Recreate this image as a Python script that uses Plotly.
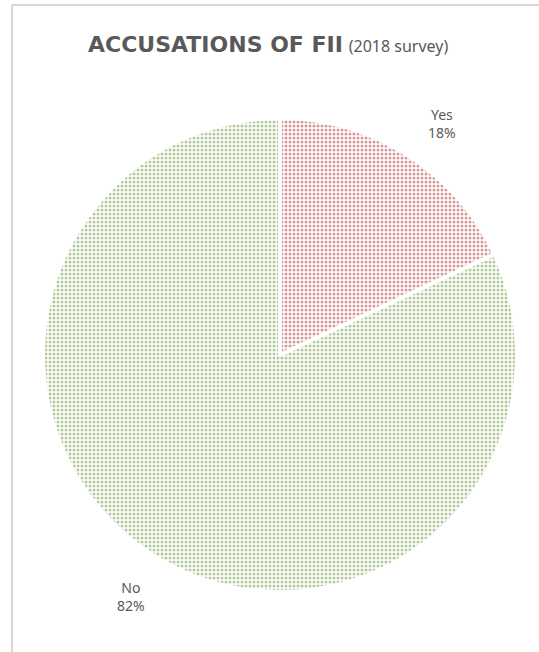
import plotly.graph_objects as go

labels = ["Yes", "No"]
values = [18, 82]
colors = ["#a8322f", "#67933a"]
title_main = "ACCUSATIONS OF FII"
title_sub = "(2018 survey)"

W, H = 539, 652

fig = go.Figure()
fig.add_trace(go.Pie(
    labels=labels,
    values=values,
    sort=False,
    direction="clockwise",
    rotation=0,
    textinfo="none",
    textposition="none",
    hoverinfo="label+percent",
    showlegend=False,
    marker=dict(
        colors=["white", "white"],
        line=dict(color="white", width=4),
        pattern=dict(shape=".", fgcolor=colors, bgcolor="white",
                     size=4, solidity=0.45, fillmode="overlay"),
    ),
    domain=dict(x=[43 / W, 517 / W], y=[(H - 592) / H, (H - 118) / H]),
))

label_pos = {"Yes": (442, 123), "No": (131, 596)}
annotations = []
total = sum(values)
for lab, v in zip(labels, values):
    px, py = label_pos[lab]
    annotations.append(dict(
        x=px / W, y=1 - py / H, xref="paper", yref="paper",
        text=f"{lab}<br>{round(100 * v / total)}%",
        showarrow=False, align="center",
        font=dict(family="Noto Sans, sans-serif", size=14, color="#595959"),
        xanchor="center", yanchor="middle",
    ))
annotations.append(dict(
    x=268 / W, y=1 - 43 / H, xref="paper", yref="paper",
    text=(f"<span style='font-family:DejaVu Sans'><b>{title_main}</b></span> "
          f"<span style='font-size:16px'>{title_sub}</span>"),
    showarrow=False, xanchor="center", yanchor="middle",
    font=dict(family="Noto Sans, sans-serif", size=22, color="#595959"),
))

fig.update_layout(
    width=W, height=H,
    margin=dict(l=0, r=0, t=0, b=0),
    paper_bgcolor="white",
    plot_bgcolor="white",
    annotations=annotations,
    shapes=[
        dict(type="line", xref="paper", yref="paper", x0=12 / W, x1=1, y0=1 - 5 / H, y1=1 - 5 / H,
             line=dict(color="#d6d6d6", width=2)),
        dict(type="line", xref="paper", yref="paper", x0=12 / W, x1=12 / W, y0=0, y1=1 - 5 / H,
             line=dict(color="#d6d6d6", width=2)),
    ],
)

fig.write_html("out.html", config={"displayModeBar": False},
               post_script="document.body.style.margin='0';document.body.style.overflow='hidden';")
